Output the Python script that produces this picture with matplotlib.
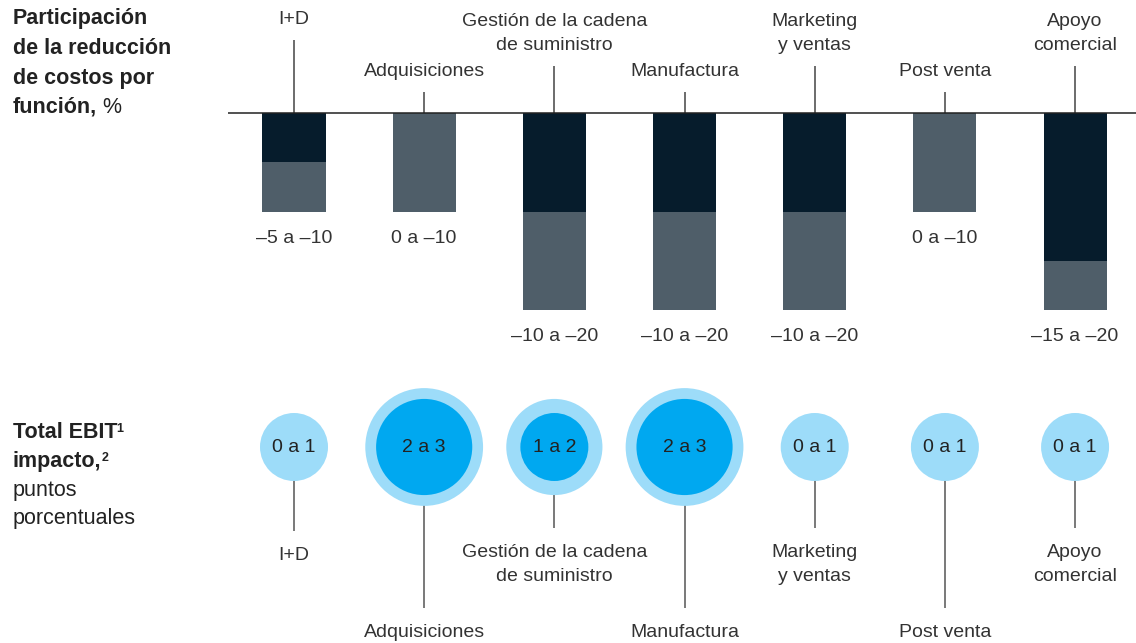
import matplotlib
matplotlib.use("Agg")
import matplotlib.pyplot as plt
import numpy as np

plt.rcParams['font.family'] = ['Liberation Sans', 'DejaVu Sans']

# functions, top label and bottom label
funciones = ["I+D", "Adquisiciones", "Gestión de la cadena\nde suministro",
             "Manufactura", "Marketing\ny ventas", "Post venta", "Apoyo\ncomercial"]

# cost reduction share (%), low end and high end of the range
red_min = [-5, 0, -10, -10, -10, 0, -15]
red_max = [-10, -10, -20, -20, -20, -10, -20]
red_labels = ["–5 a –10", "0 a –10", "–10 a –20", "–10 a –20",
              "–10 a –20", "0 a –10", "–15 a –20"]

# EBIT impact, percentage points
ebit_min = [0, 2, 1, 2, 0, 0, 0]
ebit_max = [1, 3, 2, 3, 1, 1, 1]
ebit_labels = ["0 a 1", "2 a 3", "1 a 2", "2 a 3", "0 a 1", "0 a 1", "0 a 1"]

DARK = "#061C2C"
GREY = "#4F5E69"
LIGHT = "#9DDCF9"
BLUE = "#00A8F0"
TXT = "#333333"

W, H = 1136, 643
fig = plt.figure(figsize=(W / 100, H / 100), dpi=100, facecolor="white")

x = np.arange(len(funciones))
xlim = (-0.507, 6.468)

# ---------- top panel: bars ----------
ax1 = fig.add_axes([228 / W, 1 - 370 / H, 1 - 228 / W, 370 / H])
ax1.set_xlim(*xlim)
ax1.set_ylim(-(370 - 113) / 9.85, 113 / 9.85)
ax1.axis("off")

low = np.array(red_min)
high = np.array(red_max)
ax1.bar(x, low, width=0.484, color=DARK, zorder=2)
ax1.bar(x, high - low, bottom=low, width=0.484, color=GREY, zorder=2)
ax1.axhline(0, color="#222222", lw=1.1, zorder=3)

# label heights above the zero line (in %-units)
top_lvl = [7.4, 2.1, 4.75, 2.1, 4.75, 2.1, 4.75]
for xi, name, lv in zip(x, funciones, top_lvl):
    ax1.vlines(xi, 0, lv, color="#444444", lw=1.1, zorder=1)
    ax1.annotate(name, (xi, lv), xytext=(0, 9), textcoords="offset points",
                 ha="center", va="bottom", fontsize=14, color=TXT,
                 linespacing=1.55)

for xi, hv, lab in zip(x, high, red_labels):
    ax1.annotate(lab, (xi, hv), xytext=(0, -13), textcoords="offset points",
                 ha="center", va="top", fontsize=14, color=TXT)

# ---------- bottom panel: bubbles ----------
ax2 = fig.add_axes([228 / W, 0, 1 - 228 / W, 283 / H])
ax2.set_xlim(*xlim)
ax2.set_ylim(-196, 87)
ax2.axis("off")

k = (68 * 0.72) ** 2  # marker area for a value of 1
ax2.scatter(x, np.zeros(len(x)), s=np.array(ebit_max) * k, color=LIGHT,
            linewidths=0, zorder=2)
ax2.scatter(x, np.zeros(len(x)), s=np.array(ebit_min) * k, color=BLUE,
            linewidths=0, zorder=3)
for xi, lab in zip(x, ebit_labels):
    ax2.text(xi, 0, lab, ha="center", va="center", fontsize=14,
             color="#222222", zorder=4)

bot_lvl = [-84, -161, -81, -161, -81, -161, -81]
for xi, name, lv in zip(x, funciones, bot_lvl):
    ax2.vlines(xi, lv, 0, color="#555555", lw=1.1, zorder=1)
    ax2.annotate(name, (xi, lv), xytext=(0, -11.5), textcoords="offset points",
                 ha="center", va="top", fontsize=14, color=TXT,
                 linespacing=1.55)

# ---------- left headings ----------
hd = dict(fontsize=15.5, color="#222222", va="top", ha="left", linespacing=1.55)
t1 = fig.text(13 / W, 1 - 8 / H, "Participación\nde la reducción\nde costos por",
              fontweight="bold", **hd)
t2 = fig.text(13 / W, 1 - 97 / H, "función,", fontweight="bold", **hd)
ax2.annotate("%", xy=(1, 0), xycoords=t2, xytext=(4, 0),
             textcoords="offset points", va="bottom", ha="left",
             fontsize=15.5, color="#222222")

t3 = fig.text(13 / W, 1 - 422 / H, "Total EBIT", fontweight="bold", **hd)
ax2.annotate("1", xy=(1, 1), xycoords=t3, xytext=(-1, -1),
             textcoords="offset points", va="top", ha="left",
             fontsize=9, color="#222222", fontweight="bold")
t4 = fig.text(13 / W, 1 - 451 / H, "impacto,", fontweight="bold", **hd)
ax2.annotate("2", xy=(1, 1), xycoords=t4, xytext=(0, -1),
             textcoords="offset points", va="top", ha="left",
             fontsize=9, color="#222222", fontweight="bold")
fig.text(13 / W, 1 - 480 / H, "puntos\nporcentuales",
         **dict(hd, linespacing=1.45))

fig.savefig("out.png", dpi=100, facecolor="white")
